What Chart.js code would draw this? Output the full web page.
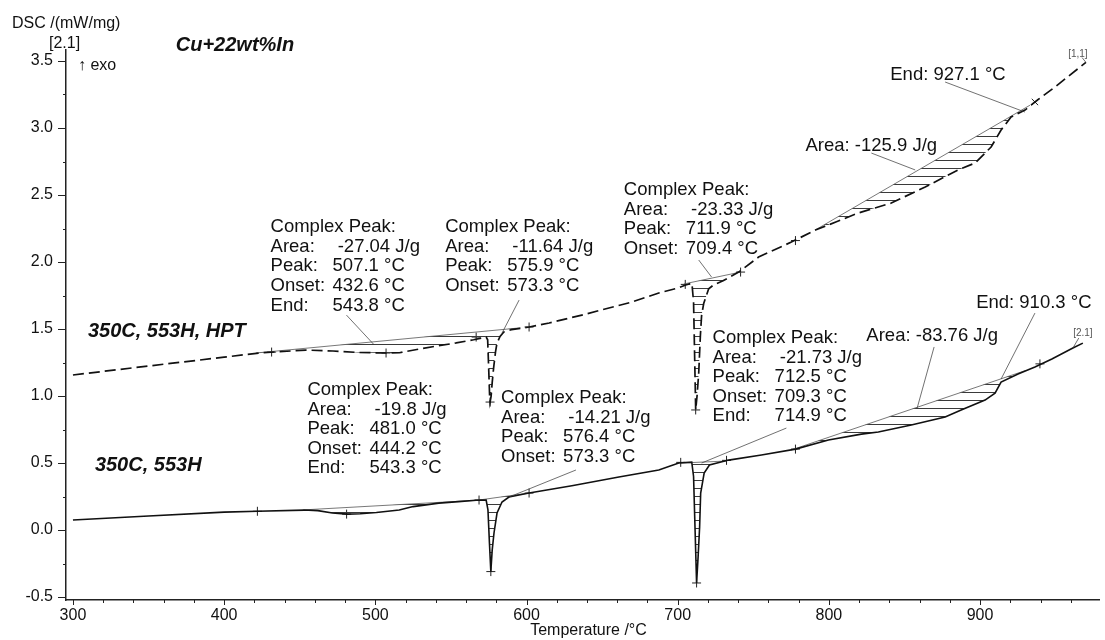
<!DOCTYPE html>
<html>
<head>
<meta charset="utf-8">
<script src="https://cdn.jsdelivr.net/npm/chart.js@4/dist/chart.umd.min.js"></script>
<style>
  html, body { margin: 0; padding: 0; background: #fff; }
  canvas { display: block; }
</style>
</head>
<body>
<canvas id="dsc" width="1105" height="640"></canvas>
<script>
// DSC heating curves, Cu+22wt%In (temperature in °C, DSC signal in mW/mg)
const hptTemp = [300, 350, 400, 423, 454, 472, 489, 507, 516, 531, 540, 553.5, 565, 573.3, 574.3, 575.0, 575.6, 575.9, 576.6, 577.3, 578.3, 579.5, 580.5, 582.5, 585, 590, 601.7, 615, 636.6, 654.5, 669.6, 687.5, 700, 705.3, 709.4, 710.5, 711.2, 711.9, 712.8, 713.9, 715.0, 715.8, 717.2, 720.5, 723.8, 730, 740.3, 753.5, 775.2, 791.1, 805, 819.5, 841.3, 863.7, 885.5, 896.7, 907.3, 913.9, 920.5, 929.7, 936.3, 950, 970];
const hptDsc = [1.157, 1.224, 1.290, 1.321, 1.343, 1.336, 1.325, 1.321, 1.323, 1.355, 1.372, 1.396, 1.420, 1.440, 1.42, 1.20, 1.00, 0.955, 1.00, 1.10, 1.216, 1.33, 1.396, 1.445, 1.478, 1.495, 1.515, 1.545, 1.604, 1.657, 1.701, 1.769, 1.805, 1.828, 1.843, 1.70, 1.30, 0.896, 1.00, 1.17, 1.45, 1.60, 1.69, 1.80, 1.83, 1.86, 1.925, 2.037, 2.149, 2.239, 2.30, 2.366, 2.440, 2.560, 2.687, 2.739, 2.858, 2.985, 3.082, 3.134, 3.194, 3.31, 3.49];

const annTemp = [300, 350, 400, 422, 453, 462, 471.6, 481.5, 490, 500.7, 515.8, 525, 542, 555, 566.7, 573.3, 574.5, 575.5, 576.4, 577.3, 578.5, 580.5, 583.8, 588.4, 601.7, 630, 661.1, 687.5, 700.7, 709.3, 710.5, 711.5, 712.5, 713.5, 714.5, 715.2, 717.5, 721, 733.7, 755.4, 777.9, 799.7, 821.5, 832.7, 854.5, 876.9, 887.5, 903.3, 909.9, 913.9, 925.1, 936.3, 947.5, 961.4, 968];
const annDsc = [0.075, 0.105, 0.134, 0.140, 0.149, 0.145, 0.127, 0.119, 0.122, 0.131, 0.149, 0.175, 0.201, 0.212, 0.222, 0.224, 0.15, -0.10, -0.31, -0.15, -0.022, 0.127, 0.209, 0.246, 0.276, 0.33, 0.396, 0.448, 0.50, 0.507, 0.40, 0.0, -0.395, -0.2, 0.022, 0.276, 0.425, 0.485, 0.522, 0.560, 0.604, 0.672, 0.716, 0.731, 0.784, 0.843, 0.896, 0.970, 1.022, 1.104, 1.164, 1.216, 1.276, 1.358, 1.395];

// integration baselines: [start, end] temperature and signal, and which curve they belong to (0 = HPT, 1 = 553H)
const baseTemp  = [[421, 596], [704, 741.6], [791, 933], [452, 573.3], [568.6, 601.7], [702, 732.3], [775, 930]];
const baseDsc   = [[1.321, 1.509], [1.836, 1.925], [2.239, 3.17], [0.150, 0.226], [0.224, 0.276], [0.50, 0.515], [0.597, 1.19]];
const baseCurve = [0, 0, 0, 1, 1, 1, 1];

// evaluation markers
const markTemp = [431.4, 507.1, 566.7, 575.9, 601.7, 705, 711.9, 741.6, 777.9, 422, 481.0, 568.6, 576.4, 601.7, 702, 712.5, 732.3, 777.9, 939.6];
const markDsc  = [1.328, 1.321, 1.44, 0.955, 1.515, 1.833, 0.896, 1.925, 2.16, 0.140, 0.119, 0.224, -0.31, 0.276, 0.505, -0.395, 0.52, 0.604, 1.24];
const endMarkTemp = [936.3];
const endMarkDsc  = [3.194];

// axis ticks
const xMajorStep = 100, xMinorStep = 20;
const yMajorStep = 0.5, yMinorStep = 0.25;

// evaluation text blocks (anchored in temperature / signal units)
const peakBlocks = [
  { t: 430.7, v: 2.261, rows: [['Complex Peak:', ''], ['Area:', ' -27.04 J/g'], ['Peak:', '507.1 °C'], ['Onset:', '432.6 °C'], ['End:', '543.8 °C']] },
  { t: 546.2, v: 2.261, rows: [['Complex Peak:', ''], ['Area:', ' -11.64 J/g'], ['Peak:', '575.9 °C'], ['Onset:', '573.3 °C']] },
  { t: 664.4, v: 2.537, rows: [['Complex Peak:', ''], ['Area:', ' -23.33 J/g'], ['Peak:', '711.9 °C'], ['Onset:', '709.4 °C']] },
  { t: 455.1, v: 1.045, rows: [['Complex Peak:', ''], ['Area:', ' -19.8 J/g'], ['Peak:', '481.0 °C'], ['Onset:', '444.2 °C'], ['End:', '543.3 °C']] },
  { t: 583.2, v: 0.985, rows: [['Complex Peak:', ''], ['Area:', ' -14.21 J/g'], ['Peak:', '576.4 °C'], ['Onset:', '573.3 °C']] },
  { t: 723.1, v: 1.433, rows: [['Complex Peak:', ''], ['Area:', ' -21.73 J/g'], ['Peak:', '712.5 °C'], ['Onset:', '709.3 °C'], ['End:', '714.9 °C']] }
];
const singleLabels = [
  { t: 784.5, v: 2.866, text: 'Area: -125.9 J/g' },
  { t: 840.6, v: 3.396, text: 'End: 927.1 °C' },
  { t: 824.8, v: 1.448, text: 'Area: -83.76 J/g' },
  { t: 897.4, v: 1.694, text: 'End: 910.3 °C' }
];
const leaders = [
  [[480.9, 1.604], [499.3, 1.381]],
  [[595.1, 1.716], [583.8, 1.470]],
  [[713.9, 2.015], [722.4, 1.888]],
  [[632.7, 0.448], [588.4, 0.246]],
  [[771.9, 0.761], [715.8, 0.500]],
  [[869.6, 1.366], [858.4, 0.910]],
  [[936.3, 1.619], [913.9, 1.127]],
  [[828.1, 2.813], [857.1, 2.687]],
  [[876.9, 3.343], [929.7, 3.119]],
  [[967.5, 3.525], [970.0, 3.490]],
  [[965.3, 1.433], [961.4, 1.358]]
];
const curveTags = [
  { t: 964.7, v: 3.552, text: '[1,1]' },
  { t: 968.0, v: 1.470, text: '[2.1]' }
];
const seriesNames = [
  { t: 309.9, v: 1.485, text: '350C, 553H, HPT' },
  { t: 314.5, v: 0.485, text: '350C, 553H' }
];

const FONT = "'Liberation Sans', Arial, Helvetica, sans-serif";
const canvas = document.getElementById('dsc');
const ctx2d = canvas.getContext('2d');

// horizontal hatching used for the integrated peak areas
function hatchPattern(color, gap) {
  const c = document.createElement('canvas');
  c.width = gap; c.height = gap;
  const g = c.getContext('2d');
  g.strokeStyle = color; g.lineWidth = 1;
  g.beginPath(); g.moveTo(0, 0.5); g.lineTo(gap, 0.5); g.stroke();
  return ctx2d.createPattern(c, 'repeat');
}
const hatch = hatchPattern('#3a3a3a', 8);

const toPts = (ts, vs) => ts.map((t, i) => ({ x: t, y: vs[i] }));

const datasets = [
  { label: '350C, 553H, HPT', data: toPts(hptTemp, hptDsc), borderColor: '#111', borderWidth: 1.7,
    borderDash: [11, 5], pointRadius: 0, tension: 0, fill: false },
  { label: '350C, 553H', data: toPts(annTemp, annDsc), borderColor: '#111', borderWidth: 1.6,
    pointRadius: 0, tension: 0, fill: false }
];
baseTemp.forEach((ts, i) => {
  datasets.push({
    label: 'baseline ' + (i + 1), data: toPts(ts, baseDsc[i]), borderColor: '#555', borderWidth: 0.8,
    pointRadius: 0, tension: 0, fill: { target: baseCurve[i], above: hatch, below: hatch }
  });
});
datasets.push({ label: 'markers', data: toPts(markTemp, markDsc), showLine: false, pointStyle: 'cross',
  pointRadius: 4.5, borderColor: '#222', borderWidth: 1, backgroundColor: '#222' });
datasets.push({ label: 'end marker', data: toPts(endMarkTemp, endMarkDsc), showLine: false, pointStyle: 'crossRot',
  pointRadius: 4.5, borderColor: '#222', borderWidth: 1, backgroundColor: '#222' });

const isMultiple = (v, step) => Math.abs(Math.round(v / step) - v / step) < 1e-6;

const decor = {
  id: 'decor',
  afterDraw(chart) {
    const { ctx, chartArea: a, scales: { x, y } } = chart;
    const px = t => x.getPixelForValue(t);
    const py = v => y.getPixelForValue(v);
    ctx.save();

    // tick marks
    ctx.strokeStyle = '#222'; ctx.lineWidth = 1;
    ctx.beginPath();
    x.ticks.forEach(tk => {
      const X = Math.round(px(tk.value)) + 0.5;
      const len = isMultiple(tk.value, xMajorStep) ? 5 : 3;
      ctx.moveTo(X, a.bottom); ctx.lineTo(X, a.bottom + len);
    });
    y.ticks.forEach(tk => {
      const Y = Math.round(py(tk.value)) + 0.5;
      const len = isMultiple(tk.value, yMajorStep) ? 8 : 3;
      ctx.moveTo(a.left, Y); ctx.lineTo(a.left - len, Y);
    });
    ctx.stroke();

    // axis titles and header
    ctx.fillStyle = '#111';
    ctx.textBaseline = 'middle';
    ctx.font = '16px ' + FONT;
    ctx.textAlign = 'left';
    ctx.fillText('DSC /(mW/mg)', 12, 24);
    ctx.fillText('[2.1]', 49, 44);
    ctx.fillText('\u2191 exo', px(303.3), py(3.463));
    ctx.textAlign = 'center';
    ctx.fillText('Temperature /°C', px(641), 631);

    ctx.textAlign = 'left';
    ctx.font = 'italic bold 20px ' + FONT;
    ctx.fillText('Cu+22wt%In', px(368), py(3.612));
    seriesNames.forEach(s => ctx.fillText(s.text, px(s.t), py(s.v)));

    // leader lines
    ctx.strokeStyle = '#333'; ctx.lineWidth = 0.7;
    ctx.beginPath();
    leaders.forEach(([p, q]) => { ctx.moveTo(px(p[0]), py(p[1])); ctx.lineTo(px(q[0]), py(q[1])); });
    ctx.stroke();

    // evaluation texts
    ctx.fillStyle = '#111';
    ctx.font = '18.5px ' + FONT;
    const lineGap = 19.6, valueCol = 62;
    peakBlocks.forEach(b => {
      const x0 = px(b.t), y0 = py(b.v);
      b.rows.forEach((r, i) => {
        ctx.fillText(r[0], x0, y0 + i * lineGap);
        if (r[1]) ctx.fillText(r[1], x0 + valueCol, y0 + i * lineGap);
      });
    });
    singleLabels.forEach(s => ctx.fillText(s.text, px(s.t), py(s.v)));

    ctx.font = '10px ' + FONT;
    ctx.fillStyle = '#555';
    ctx.textAlign = 'center';
    curveTags.forEach(s => ctx.fillText(s.text, px(s.t), py(s.v)));
    ctx.restore();
  }
};

new Chart(canvas, {
  type: 'line',
  data: { datasets },
  plugins: [decor],
  options: {
    responsive: false,
    devicePixelRatio: 1,
    animation: false,
    events: [],
    layout: { padding: { left: 0, top: 50, right: 3, bottom: 0 } },
    plugins: { legend: { display: false }, tooltip: { enabled: false }, title: { display: false } },
    elements: { line: { capBezierPoints: false } },
    scales: {
      x: {
        type: 'linear', min: 295.4, max: 979,
        border: { color: '#222', width: 1.5 },
        grid: { display: true, drawOnChartArea: false, drawTicks: true, tickLength: 5, tickColor: 'rgba(0,0,0,0)' },
        ticks: {
          stepSize: xMinorStep, includeBounds: false, autoSkip: false, maxRotation: 0, maxTicksLimit: 200,
          padding: 1, color: '#111', font: { size: 16, family: FONT },
          callback: v => isMultiple(v, xMajorStep) ? String(Math.round(v)) : ''
        },
        afterFit(s) { s.height = 40; }
      },
      y: {
        type: 'linear', min: -0.522, max: 3.582,
        border: { color: '#222', width: 1.5 },
        grid: { display: true, drawOnChartArea: false, drawTicks: true, tickLength: 8, tickColor: 'rgba(0,0,0,0)' },
        ticks: {
          stepSize: yMinorStep, includeBounds: false, autoSkip: false, maxTicksLimit: 200,
          padding: 5, color: '#111', font: { size: 16, family: FONT },
          callback: v => isMultiple(v, yMajorStep) ? Number(v).toFixed(1) : ''
        },
        afterFit(s) { s.width = 66; }
      }
    }
  }
});
</script>
</body>
</html>
